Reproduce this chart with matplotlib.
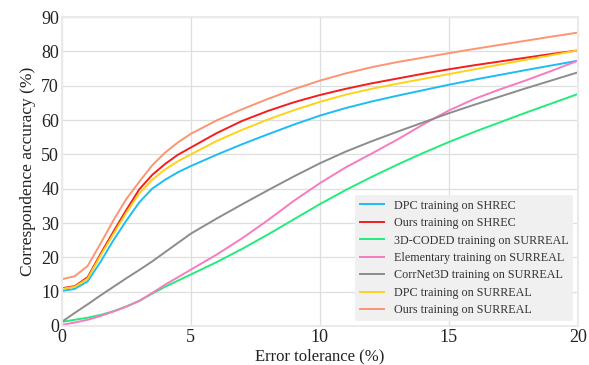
import matplotlib
matplotlib.use('Agg')
import matplotlib.pyplot as plt

# Values (error tolerance 0..20 %)
tolerance = [0, 0.5, 1, 1.5, 2, 2.5, 3, 3.5, 4, 4.5, 5,
             6, 7, 8, 9, 10, 11, 12, 13, 14, 15, 16, 17, 18, 19, 20]

dpc_shrec = [10.2, 10.8, 13, 18.7, 25, 30.7, 36, 40, 42.6, 44.8, 46.6,
             49.9, 53, 55.9, 58.7, 61.3, 63.5, 65.4, 67.1, 68.7, 70.3, 71.8, 73.2, 74.6, 75.95, 77.3]
ours_shrec = [11, 11.6, 14.2, 21, 27.5, 33.8, 39.8, 44, 47.2, 49.9, 52,
              56.2, 59.8, 62.7, 65.2, 67.3, 69.1, 70.7, 72.1, 73.5, 74.8, 76, 77.1, 78.2, 79.3, 80.3]
coded_surreal = [1.2, 1.8, 2.4, 3.2, 4.3, 5.7, 7.3, 9.4, 11.4, 13.2, 15,
                 18.6, 22.5, 26.7, 31.1, 35.5, 39.6, 43.4, 47, 50.4, 53.6, 56.6, 59.4, 62.2, 64.9, 67.6]
elementary_surreal = [0.3, 1.0, 1.8, 2.9, 4.2, 5.6, 7.3, 9.6, 12, 14.2, 16.4,
                      20.8, 25.6, 30.9, 36.5, 41.6, 46.2, 50.2, 54.3, 58.7, 62.8, 66.2, 69, 71.6, 74.4, 77.3]
corrnet_surreal = [1.2, 3.8, 6.3, 8.9, 11.4, 13.9, 16.3, 18.8, 21.5, 24.2, 26.9,
                   31.3, 35.5, 39.6, 43.6, 47.4, 50.8, 53.8, 56.6, 59.3, 62, 64.5, 66.9, 69.3, 71.6, 73.9]
dpc_surreal = [10.8, 11.4, 13.8, 20.5, 26.8, 33, 38.6, 42.6, 45.6, 48, 50,
               53.9, 57.2, 60.2, 62.9, 65.3, 67.4, 69.1, 70.6, 72, 73.4, 74.8, 76.2, 77.6, 78.95, 80.3]
ours_surreal = [13.6, 14.5, 17.5, 24, 30.8, 37, 42, 46.8, 50.5, 53.5, 56,
                59.9, 63.2, 66.2, 69, 71.5, 73.6, 75.4, 76.9, 78.2, 79.5, 80.75, 81.95, 83.15, 84.35, 85.5]

series = [
    ('DPC training on SHREC', dpc_shrec, '#1ebcf5'),
    ('Ours training on SHREC', ours_shrec, '#f51d1d'),
    ('3D-CODED training on SURREAL', coded_surreal, '#22ec7a'),
    ('Elementary training on SURREAL', elementary_surreal, '#f77bbf'),
    ('CorrNet3D training on SURREAL', corrnet_surreal, '#8c8c8c'),
    ('DPC training on SURREAL', dpc_surreal, '#ffd21a'),
    ('Ours training on SURREAL', ours_surreal, '#fb9573'),
]

plt.rcParams['font.family'] = ['Liberation Serif', 'DejaVu Serif']

fig = plt.figure(figsize=(5.89, 3.65), dpi=100)
ax = fig.add_axes([0.105, 0.107, 0.876, 0.846])

for label, vals, color in series:
    ax.plot(tolerance, vals, color=color, lw=1.4, label=label)

ax.set_xlim(0, 20)
ax.set_ylim(0, 90)
ax.set_xticks([0, 5, 10, 15, 20])
ax.set_yticks(range(0, 91, 10))
ax.tick_params(length=0, labelsize=13, pad=2, colors='#222222')
ax.grid(True, color='#dedede', lw=0.9)
ax.set_axisbelow(True)
for s in ax.spines.values():
    s.set_color('#eaeaea')
    s.set_linewidth(1.5)

ax.set_xlabel('Error tolerance (%)', fontsize=12, labelpad=2, color='#222222')
ax.set_ylabel('Correspondence accuracy (%)', fontsize=12.5, labelpad=4, color='#222222')

leg = ax.legend(loc='lower right', fontsize=8.7, frameon=True, fancybox=True,
                facecolor='#f0f0f0', edgecolor='none', framealpha=1,
                handlelength=2.0, labelspacing=0.45, borderaxespad=0.4)
for t in leg.get_texts():
    t.set_color('#333333')

fig.savefig('out.png', dpi=100)
